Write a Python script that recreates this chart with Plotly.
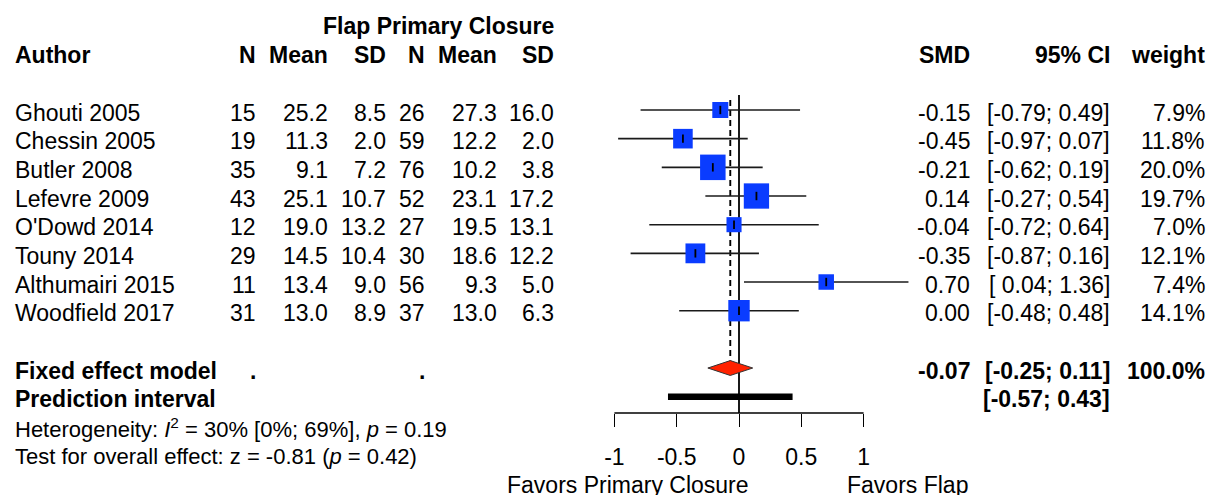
import math
import plotly.graph_objects as go

# ---------------- data ----------------
authors = ["Ghouti 2005", "Chessin 2005", "Butler 2008", "Lefevre 2009",
           "O'Dowd 2014", "Touny 2014", "Althumairi 2015", "Woodfield 2017"]
n_flap = [15, 19, 35, 43, 12, 29, 11, 31]
mean_flap = [25.2, 11.3, 9.1, 25.1, 19.0, 14.5, 13.4, 13.0]
sd_flap = [8.5, 2.0, 7.2, 10.7, 13.2, 10.4, 9.0, 8.9]
n_pc = [26, 59, 76, 52, 27, 30, 56, 37]
mean_pc = [27.3, 12.2, 10.2, 23.1, 19.5, 18.6, 9.3, 13.0]
sd_pc = [16.0, 2.0, 3.8, 17.2, 13.1, 12.2, 5.0, 6.3]
smd = [-0.15, -0.45, -0.21, 0.14, -0.04, -0.35, 0.70, 0.00]
ci_lo = [-0.79, -0.97, -0.62, -0.27, -0.72, -0.87, 0.04, -0.48]
ci_hi = [0.49, 0.07, 0.19, 0.54, 0.64, 0.16, 1.36, 0.48]
weight = [7.9, 11.8, 20.0, 19.7, 7.0, 12.1, 7.4, 14.1]

fixed_smd = -0.07
fixed_lo = -0.25
fixed_hi = 0.11
pred_lo = -0.57
pred_hi = 0.43

tick_vals = [-1, -0.5, 0, 0.5, 1]
tick_text = ["-1", "-0.5", "0", "0.5", "1"]

het_text = "Heterogeneity: <i>I</i><sup>2</sup> = 30% [0%; 69%], <i>p</i> = 0.19"
test_text = "Test for overall effect: z = -0.81 (<i>p</i> = 0.42)"
label_left = "Favors Primary Closure"
label_right = "Favors Flap"

# ---------------- layout geometry ----------------
W, H = 1211, 495
ZERO_PX = 739.0      # pixel of x = 0
UNIT_PX = 124.6      # pixels per SMD unit
ROW0_PX = 110.0      # pixel of first study row
ROW_PX = 28.67       # pixels per row
AXIS_PX = 413.0      # pixel of the x axis line

FONT = "Liberation Sans, Arial, sans-serif"
FS = 23
FS_HET = 22
TXT_SHIFT = -2.5

n = len(authors)
rows = list(range(n))
row_fixed = n + 1
row_pred = n + 2
row_het = n + 3
row_test = n + 4
row_favors = n + 5
row_hdr1 = -3
row_hdr2 = -2

def px2row(p):
    return (p - ROW0_PX) / ROW_PX

axis_row = px2row(AXIS_PX)

fig = go.Figure()

# zero (no effect) line
fig.add_trace(go.Scatter(x=[0, 0], y=[-0.52, axis_row], mode="lines",
                         line=dict(color="black", width=1.8), hoverinfo="skip"))
# fixed-effect dashed line
diamond_h = 0.26
fig.add_trace(go.Scatter(x=[fixed_smd, fixed_smd], y=[-0.35, row_fixed - diamond_h],
                         mode="lines", line=dict(color="black", width=1.9, dash="6px,4px"),
                         hoverinfo="skip"))

# confidence interval lines
cx, cy = [], []
for r, lo, hi in zip(rows, ci_lo, ci_hi):
    cx += [lo, hi, None]
    cy += [r, r, None]
fig.add_trace(go.Scatter(x=cx, y=cy, mode="lines",
                         line=dict(color="#1a1a1a", width=1.6), hoverinfo="skip"))

# squares (size ~ sqrt(weight))
fig.add_trace(go.Scatter(x=smd, y=rows, mode="markers",
                         marker=dict(symbol="square", color="#0a3cff", opacity=1,
                                     size=[5.7 * math.sqrt(w) for w in weight],
                                     line=dict(width=0)),
                         hoverinfo="skip"))
# point estimate ticks
fig.add_trace(go.Scatter(x=smd, y=rows, mode="markers",
                         marker=dict(symbol="line-ns", size=6, opacity=1,
                                     line=dict(color="black", width=1.8)),
                         hoverinfo="skip"))

# diamond
fig.add_trace(go.Scatter(x=[fixed_lo, fixed_smd, fixed_hi, fixed_smd, fixed_lo],
                         y=[row_fixed, row_fixed - diamond_h, row_fixed,
                            row_fixed + diamond_h, row_fixed],
                         mode="lines", fill="toself", fillcolor="#ff2200",
                         line=dict(color="#333333", width=1), hoverinfo="skip"))

# prediction interval bar
fig.add_trace(go.Scatter(x=[pred_lo, pred_hi], y=[row_pred, row_pred], mode="lines",
                         line=dict(color="black", width=6.5), hoverinfo="skip"))

# ---------------- text ----------------
ann = []

def txt(text, xpx, row, anchor="right", bold=False, size=FS):
    t = f"<b>{text}</b>" if bold else text
    ann.append(dict(text=t, x=xpx / W, xref="paper", y=row, yref="y",
                    xanchor=anchor, yanchor="middle", yshift=TXT_SHIFT,
                    showarrow=False, font=dict(family=FONT, size=size, color="black")))

COL_AUTHOR = 12.5
COL_N1, COL_M1, COL_S1 = 258, 329.5, 387.5
COL_N2, COL_M2, COL_S2 = 427, 498.5, 556
COL_SMD, COL_CI, COL_W = 972, 1112, 1207

txt("Flap Primary Closure", COL_S2, row_hdr1, bold=True)
txt("Author", COL_AUTHOR, row_hdr2, anchor="left", bold=True)
for lab, col in [("N", COL_N1), ("Mean", COL_M1), ("SD", COL_S1),
                 ("N", COL_N2), ("Mean", COL_M2), ("SD", COL_S2),
                 ("SMD", COL_SMD), ("95% CI", COL_CI), ("weight", COL_W)]:
    txt(lab, col, row_hdr2, bold=True)

def ci_fmt(lo, hi):
    return "[" + f"{lo:5.2f}".replace(" ", "\u00a0") + "; " + f"{hi:.2f}" + "]"

for i in rows:
    txt(authors[i], COL_AUTHOR, i, anchor="left")
    txt(str(n_flap[i]), COL_N1, i)
    txt(f"{mean_flap[i]:.1f}", COL_M1, i)
    txt(f"{sd_flap[i]:.1f}", COL_S1, i)
    txt(str(n_pc[i]), COL_N2, i)
    txt(f"{mean_pc[i]:.1f}", COL_M2, i)
    txt(f"{sd_pc[i]:.1f}", COL_S2, i)
    txt(f"{smd[i]:.2f}", COL_SMD, i)
    txt(ci_fmt(ci_lo[i], ci_hi[i]), COL_CI, i)
    txt(f"{weight[i]:.1f}%", COL_W, i)

txt("Fixed effect model", COL_AUTHOR, row_fixed, anchor="left", bold=True)
txt(".", COL_N1, row_fixed, bold=True)
txt(".", COL_N2, row_fixed, bold=True)
txt(f"{fixed_smd:.2f}", COL_SMD, row_fixed, bold=True)
txt(ci_fmt(fixed_lo, fixed_hi), COL_CI, row_fixed, bold=True)
txt(f"{sum(weight):.1f}%", COL_W, row_fixed, bold=True)

txt("Prediction interval", COL_AUTHOR, row_pred, anchor="left", bold=True)
txt(ci_fmt(pred_lo, pred_hi), COL_CI, row_pred, bold=True)

txt(het_text, COL_AUTHOR, row_het, anchor="left", size=FS_HET)
txt(test_text, COL_AUTHOR, row_test, anchor="left", size=FS_HET)

txt(label_left, 628, row_favors, anchor="center")
txt(label_right, 907.5, row_favors, anchor="center")

x_range = [(0 - ZERO_PX) / UNIT_PX, (W - ZERO_PX) / UNIT_PX]
y_range = [px2row(H), px2row(0)]

fig.update_layout(
    width=W, height=H, autosize=False,
    margin=dict(l=0, r=0, t=0, b=0, pad=0),
    paper_bgcolor="white", plot_bgcolor="white",
    showlegend=False,
    annotations=ann,
    shapes=[dict(type="line", xref="x", yref="paper",
                 x0=min(tick_vals), x1=max(tick_vals),
                 y0=1 - AXIS_PX / H, y1=1 - AXIS_PX / H,
                 line=dict(color="black", width=1.4))],
    xaxis=dict(domain=[0, 1], range=x_range, showgrid=False, zeroline=False,
               showline=False, tickvals=tick_vals, ticktext=tick_text,
               ticks="outside", ticklen=13, tickwidth=1.4, tickcolor="black",
               tickfont=dict(family=FONT, size=FS, color="black"),
               anchor="free", position=1 - AXIS_PX / H, ticklabelstandoff=10,
               fixedrange=True),
    yaxis=dict(domain=[0, 1], range=y_range, visible=False, fixedrange=True),
)

fig.write_html("out.html", config={"displayModeBar": False},
               post_script="document.body.style.margin='0';")
